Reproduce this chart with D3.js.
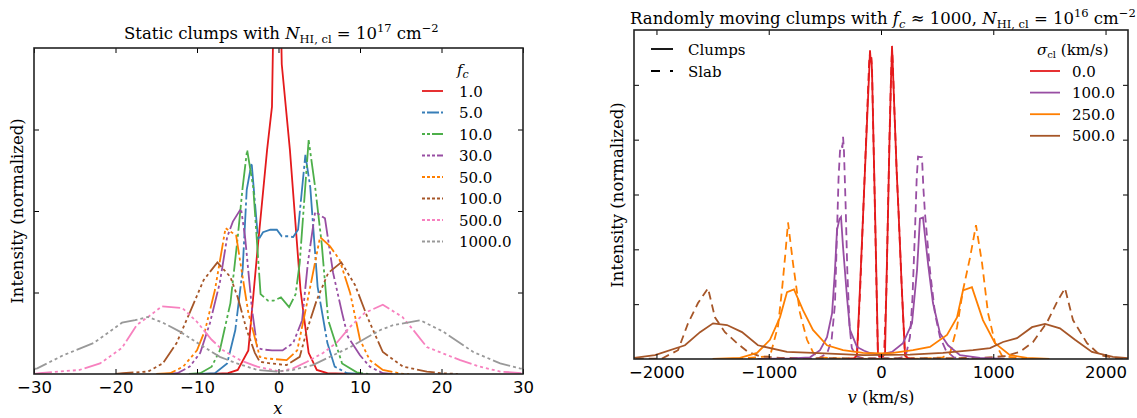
<!DOCTYPE html>
<html><head><meta charset="utf-8">
<script src="https://cdn.jsdelivr.net/npm/d3@7"></script>
<style>body{margin:0;background:#fff}svg{display:block}</style>
</head><body>
<svg id="c" width="1137" height="418"></svg>
<script>
// ---------- Left panel data (x, intensity) ----------
const fcLabels = ["1.0","5.0","10.0","30.0","50.0","100.0","500.0","1000.0"];
const fcColors = ["#e41a1c","#377eb8","#4daf4a","#984ea3","#ff7f00","#a65628","#f781bf","#999999"];
const fcDashes = [null,"30,3,3,3","26,3,3,3,3,3","22,3,3,3,3,3,3,3","20,3,3,3,3,3,3,3,3,3","18,3,3,3,3,3,3,3,3,3,3,3","18,3,3,3,3,3,3,3,3,3,3,3","18,3,3,3,3,3,3,3,3,3,3,3"];
const fcLegendDashes = [null,"3,2,12,2","3,2,3,2,12,2","3,2,3,2,3,2,12","3,2","3,2","3,2","3,2"];
const fc1 = [[-9,0],[-7.5,0.005],[-6.2,0.01],[-5,0.05],[-3.7,0.29],[-2.6,1.5],[-1.4,2.75],[-0.8,3.28],[-0.2,7],[0.4,3.8],[1.4,2.75],[2.7,1.03],[3.7,0.26],[4.7,0.05],[6,0.01],[9,0]];
const fc5 = [[-9.5,0],[-7.8,0.01],[-6.3,0.13],[-5.3,0.54],[-4.4,1.28],[-3.9,2.26],[-3.3,2.59],[-2.5,1.64],[-1.9,1.74],[-1.0,1.77],[-0.2,1.77],[0.4,1.69],[1.2,1.69],[1.8,1.68],[2.4,1.77],[3.3,2.69],[3.9,2.29],[4.8,1.07],[6.0,0.38],[6.9,0.09],[8.4,0.01],[10,0]];
const fc10 = [[-11,0],[-9.6,0.01],[-8.2,0.09],[-7.2,0.29],[-5.9,0.87],[-5.0,1.68],[-4.4,2.29],[-3.85,2.75],[-3.1,2.29],[-2.2,0.98],[-1.3,0.9],[-0.6,0.9],[0.3,0.94],[1.3,0.82],[2.1,0.98],[2.6,1.36],[3.7,2.87],[4.5,2.29],[5.3,1.6],[6.1,0.66],[7.8,0.13],[9.6,0.02],[11,0]];
const fc30 = [[-14,0],[-12.4,0.01],[-10.9,0.09],[-9.6,0.26],[-8.4,0.63],[-7.2,1.12],[-6.3,1.68],[-5.6,1.87],[-4.6,2.03],[-4.1,1.68],[-3.25,0.79],[-2.6,0.32],[-1.9,0.3],[-0.8,0.29],[0.5,0.29],[1.8,0.38],[2.9,0.66],[3.6,1.36],[4.5,1.99],[5.7,1.91],[6.7,1.24],[7.8,0.75],[8.5,0.46],[10,0.23],[11.2,0.09],[12.8,0.01],[14,0]];
const fc50 = [[-15,0],[-13.3,0.01],[-11.7,0.09],[-10,0.29],[-9.0,0.54],[-7.8,1.03],[-6.5,1.79],[-5.2,1.7],[-4.4,1.19],[-3.7,0.75],[-2.6,0.33],[-2.3,0.21],[-1.4,0.19],[1.0,0.17],[2.3,0.29],[3.5,0.87],[5.1,1.68],[6.3,1.57],[7.5,1.4],[8.8,0.99],[10,0.42],[11.2,0.17],[12.8,0.05],[15.3,0],[16,0]];
const fc100 = [[-20,0],[-19.1,0.01],[-16,0.03],[-14.2,0.13],[-12.5,0.38],[-10.9,0.75],[-9.2,1.15],[-7.5,1.37],[-5.9,1.19],[-5,0.94],[-3.9,0.54],[-2.9,0.26],[-2.3,0.15],[-1,0.13],[1,0.11],[2.6,0.21],[3.5,0.54],[4.7,0.91],[6.1,1.24],[7.7,1.37],[9.4,1.09],[10.9,0.7],[12.8,0.27],[15.3,0.09],[18.2,0.03],[20,0.01],[22,0]];
const fc500 = [[-30,0],[-29.3,0.01],[-24.4,0.05],[-21.9,0.13],[-19.2,0.32],[-17.4,0.6],[-16,0.7],[-14.3,0.83],[-11.8,0.81],[-10,0.64],[-8.2,0.42],[-6.8,0.29],[-4.7,0.17],[-2.6,0.09],[0.2,0.03],[1.8,0.07],[3.5,0.15],[5.5,0.26],[7.2,0.39],[8.8,0.58],[10.6,0.75],[12.8,0.85],[15.2,0.7],[16.7,0.52],[18.2,0.33],[20,0.26],[22.3,0.17],[24.7,0.09],[27.2,0.03],[30,0.01]];
const fc1000 = [[-30.5,0.05],[-29.6,0.07],[-26.4,0.23],[-22.7,0.38],[-20.7,0.52],[-19.2,0.63],[-17.6,0.66],[-16,0.7],[-14.2,0.63],[-12.1,0.52],[-9.6,0.36],[-7.2,0.21],[-5.1,0.13],[-2.6,0.05],[-0.2,0.03],[1.8,0.05],[4.2,0.11],[6.7,0.23],[8.8,0.33],[10.9,0.45],[12.5,0.54],[14.1,0.6],[15.8,0.63],[17.4,0.66],[20.2,0.52],[23.9,0.27],[27.2,0.13],[29.6,0.07],[30.5,0.05]];
const leftSeries = [fc1,fc5,fc10,fc30,fc50,fc100,fc500,fc1000];
const leftXTicks = [-30,-20,-10,0,10,20,30];
const leftYTicks = [1,2,3];

// ---------- Right panel data (v km/s, intensity) ----------
const sigLabels = ["0.0","100.0","250.0","500.0"];
const sigColors = ["#e41a1c","#984ea3","#ff7f00","#a65628"];
const clump0 = [[-300,0],[-240,0.01],[-214,0.07],[-185,1.4],[-156,2.8],[-127,4.2],[-104,5.3],[-98,5.63],[-92,5.45],[-86,5.5],[-80,5.25],[-66,3.9],[-53,2.7],[-40,1.4],[-27,0.1],[-15,0.04],[0,0.05],[15,0.04],[36,0.1],[49,1.4],[62,2.6],[75,3.9],[89,5.1],[93,5.3],[98,5.71],[103,5.45],[120,4.5],[140,3.4],[156,2.7],[185,1.3],[214,0.07],[240,0.01],[300,0]];
const slab0 = [[-300,0],[-240,0.01],[-214,0.05],[-185,1.3],[-156,2.8],[-127,4.3],[-106,5.4],[-100,5.55],[-94,5.4],[-88,5.5],[-80,5.3],[-66,3.9],[-53,2.6],[-40,1.3],[-28,0.1],[0,0.04],[28,0.1],[49,1.3],[62,2.7],[75,4.0],[90,5.2],[95,5.5],[100,5.6],[105,5.4],[120,4.5],[140,3.4],[156,2.7],[185,1.3],[214,0.06],[240,0.01],[300,0]];
const clump100 = [[-1100,0],[-800,0.01],[-632,0.03],[-543,0.16],[-481,0.4],[-436,0.83],[-410,1.62],[-392,2.35],[-370,2.55],[-356,2.59],[-338,2.04],[-303,1.13],[-276,0.53],[-214,0.22],[-150,0.15],[-98,0.11],[-9,0.08],[98,0.13],[196,0.29],[276,0.65],[321,1.62],[347,2.56],[374,2.58],[419,1.74],[463,1.02],[525,0.47],[597,0.25],[704,0.07],[882,0.02],[1100,0]];
const slab100 = [[-800,0],[-560,0.01],[-480,0.1],[-440,0.35],[-410,1.0],[-392,2.3],[-378,3.3],[-365,3.8],[-350,3.9],[-344,3.85],[-338,4.05],[-330,3.8],[-315,2.8],[-300,1.6],[-280,0.6],[-260,0.2],[-220,0.05],[-150,0.01],[150,0.01],[220,0.05],[258,0.4],[280,1.1],[303,2.35],[318,3.3],[330,3.69],[350,3.68],[365,3.68],[378,3.1],[392,2.65],[436,1.62],[481,0.83],[525,0.4],[580,0.15],[650,0.03],[800,0]];
const clump250 = [[-1500,0],[-1256,0.02],[-1104,0.11],[-989,0.35],[-900,0.76],[-837,1.22],[-775,1.27],[-695,0.89],[-606,0.53],[-481,0.25],[-338,0.16],[-160,0.11],[0,0.1],[107,0.11],[285,0.16],[436,0.22],[588,0.44],[677,0.76],[730,1.25],[810,1.31],[908,0.71],[1015,0.29],[1149,0.07],[1300,0.02],[1500,0]];
const slab250 = [[-1300,0],[-989,0.05],[-917,0.6],[-880,1.3],[-855,1.85],[-828,2.49],[-784,1.75],[-722,0.84],[-659,0.35],[-600,0.1],[-550,0.03],[-400,0.01],[0,0],[400,0.01],[550,0.03],[614,0.1],[677,0.58],[730,1.25],[793,1.85],[846,2.44],[900,1.75],[953,0.84],[1015,0.3],[1080,0.05],[1300,0]];
const clump500 = [[-2300,0],[-2236,0.01],[-2013,0.07],[-1746,0.25],[-1612,0.49],[-1496,0.65],[-1372,0.62],[-1238,0.49],[-1096,0.25],[-837,0.13],[-606,0.11],[-160,0.07],[258,0.08],[552,0.11],[819,0.16],[971,0.2],[1087,0.31],[1211,0.38],[1345,0.58],[1461,0.64],[1594,0.56],[1728,0.35],[1879,0.13],[2066,0.04],[2300,0]];
const slab500 = [[-2300,0],[-1950,0.01],[-1808,0.16],[-1719,0.65],[-1630,1.02],[-1541,1.29],[-1479,0.76],[-1390,0.49],[-1283,0.29],[-1185,0.13],[-1078,0.05],[-900,0.02],[0,0.01],[900,0.02],[1100,0.05],[1238,0.13],[1354,0.31],[1479,0.67],[1568,1.04],[1639,1.29],[1710,0.71],[1835,0.29],[1951,0.07],[2100,0.01],[2300,0]];
const clumpSeries = [clump0,clump100,clump250,clump500];
const slabSeries = [slab0,slab100,slab250,slab500];
const rightXTicks = [-2000,-1000,0,1000,2000];
const rightYTicks = [1,2,3,4,5];

const SERIF = "DejaVu Serif";
const SANS = "DejaVu Sans";
const LW = 1.8;
const svg = d3.select("#c");

function panel(opts){
  const {x0,x1,y0,y1,xDom,yDom,xTicks,yTicks,id} = opts;
  const x = d3.scaleLinear().domain(xDom).range([x0,x1]);
  const y = d3.scaleLinear().domain(yDom).range([y1,y0]);
  svg.append("clipPath").attr("id",id).append("rect").attr("x",x0).attr("y",y0).attr("width",x1-x0).attr("height",y1-y0);
  const g = svg.append("g");
  const plot = g.append("g").attr("clip-path",`url(#${id})`);
  const axB = d3.axisBottom(x).tickValues(xTicks).tickSizeInner(-5).tickSizeOuter(0).tickPadding(7).tickFormat(d3.format("d"));
  const axT = d3.axisTop(x).tickValues(xTicks).tickSizeInner(-5).tickSizeOuter(0).tickFormat("");
  const axL = d3.axisLeft(y).tickValues(yTicks).tickSizeInner(-5).tickSizeOuter(0).tickFormat("");
  const axR = d3.axisRight(y).tickValues(yTicks).tickSizeInner(-5).tickSizeOuter(0).tickFormat("");
  const style = s => { s.select(".domain").remove(); s.selectAll("line").attr("stroke","#000").attr("stroke-width",1); s.selectAll("text").attr("font-family",SANS).attr("font-size",16.5).attr("fill","#000"); };
  g.append("g").attr("transform",`translate(0,${y1})`).call(axB).call(style);
  g.append("g").attr("transform",`translate(0,${y0})`).call(axT).call(style);
  g.append("g").attr("transform",`translate(${x0},0)`).call(axL).call(style);
  g.append("g").attr("transform",`translate(${x1},0)`).call(axR).call(style);
  return {x,y,plot,g};
}

// ---------- Left panel ----------
const L = panel({x0:34,x1:523,y0:48,y1:374,xDom:[-30,30],yDom:[0,4],xTicks:leftXTicks,yTicks:leftYTicks,id:"clipL"});
const lineL = d3.line().x(d=>L.x(d[0])).y(d=>L.y(d[1]));
leftSeries.forEach((s,i)=>{
  L.plot.append("path").datum(s).attr("d",lineL).attr("fill","none")
    .attr("stroke",fcColors[i]).attr("stroke-width",LW)
    .attr("stroke-dasharray",fcDashes[i]);
});
svg.append("rect").attr("x",34).attr("y",48).attr("width",489).attr("height",326).attr("fill","none").attr("stroke","#222").attr("stroke-width",1.6);

// legend
const legL = svg.append("g");
const tL = legL.append("text").attr("x",457).attr("y",75).attr("font-family",SERIF).attr("font-size",15);
tL.append("tspan").attr("font-style","italic").text("f");
tL.append("tspan").attr("font-style","italic").attr("font-size",11).attr("dy",3).text("c");
fcLabels.forEach((lab,i)=>{
  const yy = 91 + i*21.5;
  legL.append("line").attr("x1",422).attr("x2",443).attr("y1",yy).attr("y2",yy)
    .attr("stroke",fcColors[i]).attr("stroke-width",LW).attr("stroke-dasharray",fcLegendDashes[i]);
  legL.append("text").attr("x",459).attr("y",yy+5.5).attr("font-family",SERIF).attr("font-size",15).text(lab);
});

// title
const ttl = svg.append("text").attr("x",124).attr("y",39).attr("font-family",SERIF).attr("font-size",16.5);
ttl.append("tspan").text("Static clumps with ");
ttl.append("tspan").attr("font-style","italic").text("N");
ttl.append("tspan").attr("font-size",11.5).attr("dy",4).text("HI, cl");
ttl.append("tspan").attr("dy",-4).text(" = 10");
ttl.append("tspan").attr("font-size",11.5).attr("dy",-7).text("17");
ttl.append("tspan").attr("dy",7).text(" cm");
ttl.append("tspan").attr("font-size",11.5).attr("dy",-7).text("−2");

svg.append("text").attr("transform","translate(23,211) rotate(-90)").attr("text-anchor","middle").attr("font-family",SERIF).attr("font-size",16.5).text("Intensity (normalized)");
svg.append("text").attr("x",278).attr("y",414).attr("text-anchor","middle").attr("font-family",SERIF).attr("font-style","italic").attr("font-size",16.5).text("x");

// ---------- Right panel ----------
const R = panel({x0:634,x1:1128,y0:30,y1:359,xDom:[-2200,2200],yDom:[0,6],xTicks:rightXTicks,yTicks:rightYTicks,id:"clipR"});
const lineR = d3.line().x(d=>R.x(d[0])).y(d=>R.y(d[1]));
slabSeries.forEach((s,i)=>{
  R.plot.append("path").datum(s).attr("d",lineR).attr("fill","none")
    .attr("stroke",sigColors[i]).attr("stroke-width",LW).attr("stroke-dasharray","8,5");
});
clumpSeries.forEach((s,i)=>{
  R.plot.append("path").datum(s).attr("d",lineR).attr("fill","none")
    .attr("stroke",sigColors[i]).attr("stroke-width",LW);
});
svg.append("rect").attr("x",634).attr("y",30).attr("width",494).attr("height",329).attr("fill","none").attr("stroke","#222").attr("stroke-width",1.6);

// legends
const legR1 = svg.append("g");
[["Clumps",null],["Slab","9,10"]].forEach((d,i)=>{
  const yy = 49 + i*22;
  legR1.append("line").attr("x1",651).attr("x2",673).attr("y1",yy).attr("y2",yy).attr("stroke","#000").attr("stroke-width",1.8).attr("stroke-dasharray",d[1]);
  legR1.append("text").attr("x",688).attr("y",yy+5.5).attr("font-family",SERIF).attr("font-size",15).text(d[0]);
});
const legR2 = svg.append("g");
const tR = legR2.append("text").attr("x",1037).attr("y",55).attr("font-family",SERIF).attr("font-size",15);
tR.append("tspan").attr("font-style","italic").text("σ");
tR.append("tspan").attr("font-size",10).attr("dy",3).text("cl");
tR.append("tspan").attr("dy",-3).text(" (km/s)");
sigLabels.forEach((lab,i)=>{
  const yy = 71 + i*21.6;
  legR2.append("line").attr("x1",1030).attr("x2",1060).attr("y1",yy).attr("y2",yy).attr("stroke",sigColors[i]).attr("stroke-width",LW);
  legR2.append("text").attr("x",1072).attr("y",yy+5.5).attr("font-family",SERIF).attr("font-size",15).text(lab);
});

const ttr = svg.append("text").attr("x",630).attr("y",24).attr("font-family",SERIF).attr("font-size",16.5);
ttr.append("tspan").text("Randomly moving clumps with ");
ttr.append("tspan").attr("font-style","italic").text("f");
ttr.append("tspan").attr("font-style","italic").attr("font-size",11.5).attr("dy",4).text("c");
ttr.append("tspan").attr("dy",-4).text(" ≈ 1000, ");
ttr.append("tspan").attr("font-style","italic").text("N");
ttr.append("tspan").attr("font-size",11.5).attr("dy",4).text("HI, cl");
ttr.append("tspan").attr("dy",-4).text(" = 10");
ttr.append("tspan").attr("font-size",11.5).attr("dy",-7).text("16");
ttr.append("tspan").attr("dy",7).text(" cm");
ttr.append("tspan").attr("font-size",11.5).attr("dy",-7).text("−2");

svg.append("text").attr("transform","translate(623,195) rotate(-90)").attr("text-anchor","middle").attr("font-family",SERIF).attr("font-size",16.5).text("Intensity (normalized)");
const xl = svg.append("text").attr("x",881).attr("y",403).attr("text-anchor","middle").attr("font-family",SERIF).attr("font-size",16.5);
xl.append("tspan").attr("font-style","italic").text("v");
xl.append("tspan").text(" (km/s)");
</script>
</body></html>
